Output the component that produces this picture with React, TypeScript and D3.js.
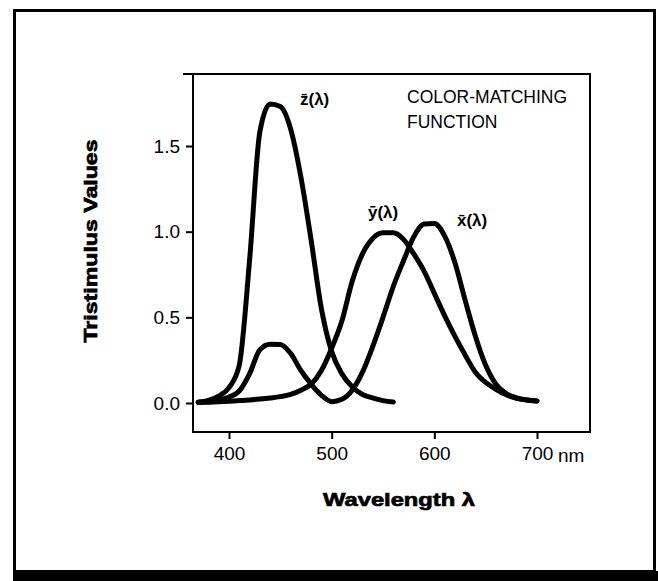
import React, { useEffect, useRef } from 'react';
import * as d3 from 'd3';

const WIDTH = 658;
const HEIGHT = 581;

// wavelength samples (nm)
const wavelengths = [
  370, 380, 390, 400, 410, 420, 430, 440, 450, 460, 470, 480, 490, 500, 510, 520, 530,
  540, 550, 560, 570, 580, 590, 600, 610, 620, 630, 640, 650, 660, 670, 680, 690, 700,
];

// x-bar(lambda)
const xBarValues = [
  0.005, 0.007, 0.016, 0.035, 0.07, 0.17, 0.31, 0.343, 0.342, 0.29, 0.19, 0.11, 0.045, 0.008,
  0.022, 0.075, 0.18, 0.33, 0.5, 0.68, 0.83, 0.97, 1.045, 1.048, 0.975, 0.82, 0.6, 0.39, 0.22,
  0.11, 0.055, 0.03, 0.017, 0.012,
];

// y-bar(lambda)
const yBarValues = [
  0.004, 0.005, 0.007, 0.01, 0.014, 0.018, 0.023, 0.029, 0.037, 0.05, 0.075, 0.11, 0.19, 0.32,
  0.48, 0.71, 0.87, 0.96, 0.993, 0.993, 0.955, 0.87, 0.77, 0.64, 0.51, 0.39, 0.28, 0.18, 0.12,
  0.08, 0.048, 0.028, 0.018, 0.012,
];

// z-bar(lambda) stops at 560 nm
const zBarWavelengths = [
  370, 380, 390, 400, 410, 420, 430, 440, 450, 460, 470, 480, 490, 500, 510, 520, 530, 540, 550, 560,
];
const zBarValues = [
  0.005, 0.015, 0.04, 0.09, 0.22, 0.83, 1.58, 1.745, 1.73, 1.6, 1.32, 0.95, 0.55, 0.3, 0.17,
  0.095, 0.05, 0.03, 0.014, 0.006,
];

const xTicks = [400, 500, 600, 700];
const yTicks = [0, 0.5, 1.0, 1.5];

const curveLabels = [
  { text: 'z\u0304(\u03bb)', x: 300, y: 105 },
  { text: 'y\u0304(\u03bb)', x: 368, y: 218 },
  { text: 'x\u0304(\u03bb)', x: 457, y: 226 },
];

const FONT = '"Liberation Sans", Arial, Helvetica, sans-serif';

const App: React.FC = () => {
  const svgRef = useRef<SVGSVGElement>(null);

  useEffect(() => {
    if (!svgRef.current) return;
    const svg = d3.select(svgRef.current);
    svg.selectAll('*').remove();

    // plot box
    const left = 193, right = 590, top = 74, bottom = 432;

    const x = d3.scaleLinear().domain([400, 700]).range([229, 537]);
    const y = d3.scaleLinear().domain([0, 1.5]).range([403, 146]);

    svg.append('rect').attr('width', WIDTH).attr('height', HEIGHT).attr('fill', '#fff');

    // outer frame
    svg.append('rect')
      .attr('x', 14.5).attr('y', 10.5)
      .attr('width', 640).attr('height', 561)
      .attr('fill', 'none').attr('stroke', '#000').attr('stroke-width', 3);
    svg.append('rect')
      .attr('x', 13).attr('y', 571)
      .attr('width', WIDTH - 13).attr('height', 10)
      .attr('fill', '#000');

    // plot frame
    svg.append('path')
      .attr('d', `M${left - 10},${top}H${right}V${bottom}H${left}V${top}`)
      .attr('fill', 'none').attr('stroke', '#000').attr('stroke-width', 2);

    // axes
    const xAxis = d3.axisBottom(x).tickValues(xTicks).tickSize(7).tickPadding(8)
      .tickFormat(d3.format('d'));
    const gx = svg.append('g').attr('transform', `translate(0,${bottom})`).call(xAxis);
    gx.select('.domain').remove();
    gx.selectAll('line').attr('stroke-width', 2);
    gx.selectAll('text').attr('font-size', 19).attr('font-family', FONT).attr('fill', '#000');

    const yAxis = d3.axisLeft(y).tickValues(yTicks).tickSize(7).tickPadding(6)
      .tickFormat(d3.format('.1f'));
    const gy = svg.append('g').attr('transform', `translate(${left},0)`).call(yAxis);
    gy.select('.domain').remove();
    gy.selectAll('line').attr('stroke-width', 2);
    gy.selectAll('text').attr('font-size', 19).attr('font-family', FONT).attr('fill', '#000');

    svg.append('text')
      .attr('x', 558).attr('y', bottom + 30)
      .attr('font-size', 19).attr('font-family', FONT)
      .text('nm');

    // curves
    const line = d3.line<[number, number]>()
      .x(d => x(d[0]))
      .y(d => y(d[1]))
      .curve(d3.curveMonotoneX);

    const series: [number, number][][] = [
      wavelengths.map((w, i) => [w, xBarValues[i]] as [number, number]),
      wavelengths.map((w, i) => [w, yBarValues[i]] as [number, number]),
      zBarWavelengths.map((w, i) => [w, zBarValues[i]] as [number, number]),
    ];

    svg.append('g')
      .selectAll('path')
      .data(series)
      .join('path')
      .attr('d', d => line(d) as string)
      .attr('fill', 'none')
      .attr('stroke', '#000')
      .attr('stroke-width', 5)
      .attr('stroke-linejoin', 'round')
      .attr('stroke-linecap', 'round');

    // curve labels
    svg.append('g')
      .selectAll('text')
      .data(curveLabels)
      .join('text')
      .attr('x', d => d.x).attr('y', d => d.y)
      .attr('font-size', 17).attr('font-weight', 'bold').attr('font-family', FONT)
      .text(d => d.text);

    // annotation
    const note = svg.append('text')
      .attr('font-size', 17.5).attr('font-family', FONT);
    note.append('tspan').attr('x', 407).attr('y', 103).text('COLOR-MATCHING');
    note.append('tspan').attr('x', 407).attr('y', 128).text('FUNCTION');

    // axis titles
    svg.append('text')
      .attr('x', 399).attr('y', 506)
      .attr('text-anchor', 'middle')
      .attr('font-size', 19).attr('font-weight', 'bold').attr('font-family', FONT)
      .attr('stroke', '#000').attr('stroke-width', 0.7)
      .attr('textLength', 152).attr('lengthAdjust', 'spacingAndGlyphs')
      .text('Wavelength \u03bb');

    svg.append('text')
      .attr('transform', `translate(97,241) rotate(-90)`)
      .attr('text-anchor', 'middle')
      .attr('font-size', 19).attr('font-weight', 'bold').attr('font-family', FONT)
      .attr('stroke', '#000').attr('stroke-width', 0.7)
      .attr('textLength', 203).attr('lengthAdjust', 'spacingAndGlyphs')
      .text('Tristimulus Values');
  }, []);

  return (
    <svg
      ref={svgRef}
      width={WIDTH}
      height={HEIGHT}
      style={{ position: 'absolute', left: 0, top: 0, display: 'block' }}
    />
  );
};

export default App;
